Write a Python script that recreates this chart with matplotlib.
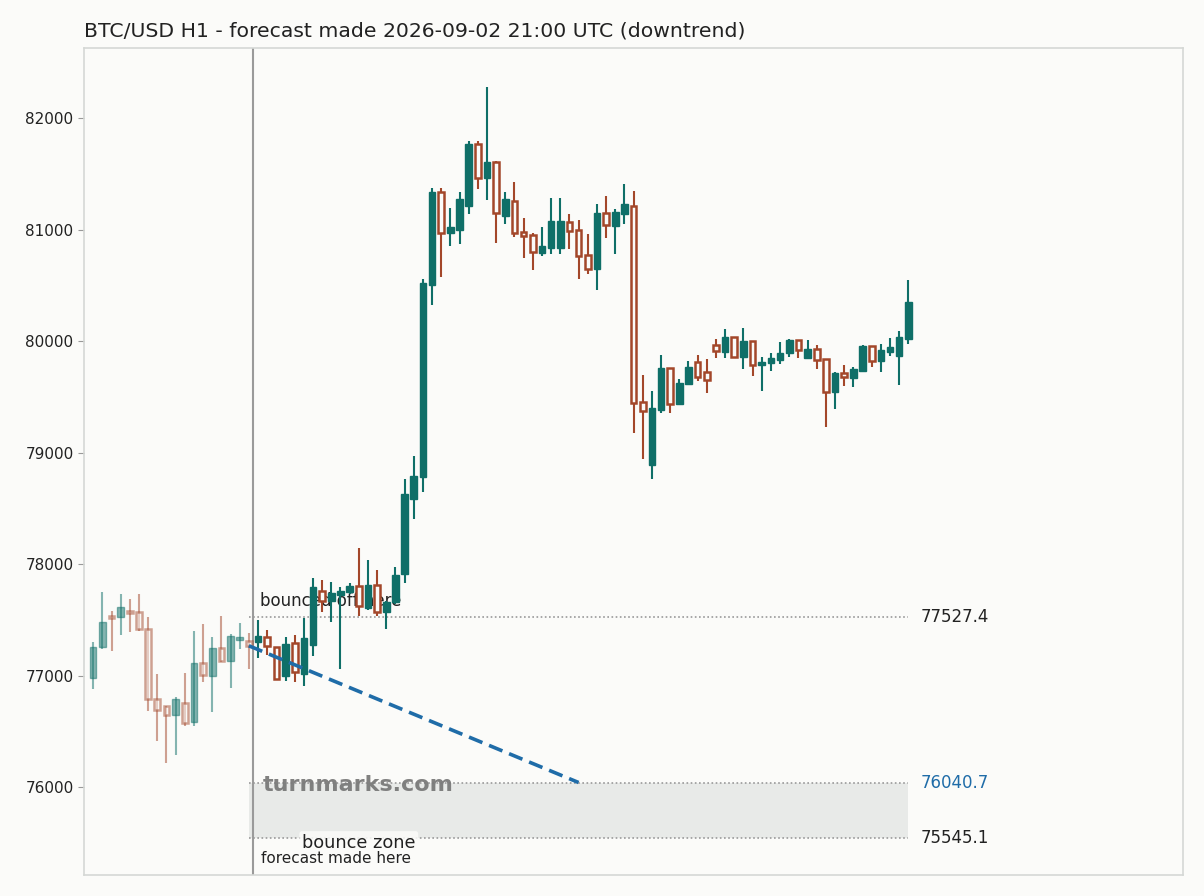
import numpy as np
import matplotlib.pyplot as plt
from matplotlib.patches import Rectangle

# hourly candles, first 18 are history before the forecast point
opens = [76975, 77253, 77530, 77522, 77580, 77572, 77414, 76786, 76726, 76643,
         76750, 76580, 77109, 77000, 77244, 77133, 77320, 77309,
         77303, 77348, 77253, 76998, 77289, 77011, 77273, 77760, 77671, 77722,
         77751, 77803, 77603, 77812, 77572, 77662, 77907, 78580, 78783, 80505,
         81334, 80971, 80995, 81213, 81764, 81465, 81603, 81124, 81253, 80975,
         80951, 80792, 80837, 80837, 81070, 80993, 80769, 80648, 81145, 81034,
         81142, 81211, 79450, 78891, 79378, 79755, 79432, 79612, 79809, 79725,
         79962, 79904, 80033, 79859, 79997, 79782, 79805, 79832, 79889, 80006,
         79847, 79926, 79836, 79540, 79710, 79671, 79734, 79952, 79824, 79904,
         79868, 80021]
closes = [77253, 77477, 77515, 77611, 77565, 77414, 76786, 76688, 76643, 76786,
          76571, 77109, 77004, 77244, 77133, 77354, 77345, 77267,
          77354, 77264, 76966, 77280, 77029, 77333, 77791, 77671, 77737, 77760,
          77805, 77626, 77812, 77572, 77662, 77901, 78628, 78789, 80523, 81336,
          80966, 81022, 81274, 81767, 81465, 81605, 81145, 81274, 80966, 80942,
          80795, 80852, 81076, 81076, 80984, 80760, 80643, 81148, 81038, 81157,
          81229, 79441, 79369, 79399, 79755, 79435, 79623, 79764, 79677, 79650,
          79910, 80036, 79859, 80000, 79782, 79812, 79845, 79892, 80009, 79917,
          79928, 79827, 79540, 79713, 79674, 79749, 79955, 79824, 79919, 79946,
          80036, 80350]
highs = [77303, 77751, 77575, 77728, 77683, 77728, 77522, 77011, 76730, 76804,
         77019, 77399, 77459, 77348, 77536, 77370, 77468, 77384,
         77498, 77408, 77260, 77342, 77363, 77513, 77871, 77856, 77841, 77796,
         77832, 78141, 78036, 77946, 77670, 77970, 78762, 78968, 80556, 81375,
         81375, 81196, 81339, 81794, 81794, 82281, 81614, 81336, 81426, 81103,
         80966, 81022, 81282, 81282, 81139, 81085, 80960, 81229, 81300, 81184,
         81408, 81345, 79695, 79552, 79874, 79760, 79656, 79821, 79874, 79838,
         80018, 80108, 80040, 80117, 80000, 79856, 79892, 79991, 80018, 80010,
         80009, 79964, 79840, 79722, 79785, 79764, 79964, 79955, 79973, 80024,
         80090, 80547]
lows = [76876, 77235, 77222, 77363, 77393, 77400, 76681, 76412, 76218, 76287,
        76547, 76550, 76939, 76670, 77120, 76885, 77235, 77055,
        77154, 77184, 76960, 76953, 76944, 76908, 77175, 77572, 77482, 77055,
        77728, 77533, 77590, 77533, 77414, 77640, 77832, 78401, 78648, 80323,
        80577, 80855, 80870, 81139, 81363, 81265, 80882, 81049, 80935, 80747,
        80637, 80765, 80783, 80783, 80828, 80560, 80604, 80460, 80927, 80783,
        81052, 79172, 78944, 78760, 79352, 79357, 79430, 79605, 79644, 79536,
        79850, 79850, 79850, 79749, 79689, 79554, 79734, 79796, 79859, 79850,
        79838, 79746, 79226, 79393, 79599, 79585, 79730, 79770, 79725, 79865,
        79605, 79976]

n_hist = 18
bounce_level = 77527.4
target_level = 76040.7
zone_low = 75545.1
target_idx = 53

up_col = "#0f6f68"
down_col = "#a3472a"
bg = "#fbfbf9"

fig = plt.figure(figsize=(12.04, 8.96), dpi=100, facecolor=bg)
ax = fig.add_axes([0.0698, 0.0234, 0.9128, 0.923])
ax.set_facecolor(bg)

x = np.arange(len(opens))
for i in x:
    o, c, h, l = opens[i], closes[i], highs[i], lows[i]
    col = up_col if c >= o else down_col
    a = 0.5 if i < n_hist else 1.0
    ax.vlines(i, l, h, color=col, lw=1.5, alpha=a, zorder=3)
    lo, hi = min(o, c), max(o, c)
    hgt = max(hi - lo, 12)
    if c >= o:
        ax.bar(i, hgt, bottom=lo, width=0.72, color=col, edgecolor=col,
               lw=1.0, alpha=a, zorder=4)
    else:
        ax.bar(i, hgt, bottom=lo, width=0.62, color=bg, edgecolor=col,
               lw=1.8, alpha=a, zorder=4)

last = len(opens) - 1
# forecast marker and levels
ax.axvline(n_hist - 0.5, color="#9a9a9a", lw=1.5, zorder=2)
ax.add_patch(Rectangle((n_hist - 1, zone_low), last - (n_hist - 1),
                       target_level - zone_low, facecolor="#e8eae8",
                       edgecolor="none", zorder=1))
for lvl in [bounce_level, target_level, zone_low]:
    ax.plot([n_hist - 1, last], [lvl, lvl], ls=(0, (1, 1.5)), color="#999999",
            lw=1.2, zorder=2)
ax.plot([n_hist - 1, target_idx], [closes[n_hist - 1], target_level],
        ls=(0, (4, 2)), color="#1f6ca8", lw=2.6, zorder=5)

ax.text(last + 1.3, bounce_level, "77527.4", fontsize=12, color="#222222",
        va="center", ha="left")
ax.text(last + 1.3, target_level, "76040.7", fontsize=12, color="#1f6ca8",
        va="center", ha="left")
ax.text(last + 1.3, zone_low, "75545.1", fontsize=12, color="#222222",
        va="center", ha="left")
ax.text(n_hist + 0.2, 77590, "bounced off here", fontsize=12, color="#222222",
        va="bottom", ha="left", zorder=2)
ax.text(29, 75500, "bounce zone", fontsize=12.8, color="#222222", va="center",
        ha="center", zorder=6,
        bbox=dict(boxstyle="round,pad=0.15", facecolor="#fbfbf9",
                  edgecolor="none", alpha=0.85))
ax.text(n_hist + 0.3, 75360, "forecast made here", fontsize=11,
        color="#222222", va="center", ha="left", zorder=6)
ax.text(n_hist + 0.5, 76015, "turnmarks.com", fontsize=16, fontweight="bold",
        color="#7a7a7a", alpha=0.95, va="center", ha="left", zorder=6)

ax.set_xlim(-1, 119)
ax.set_ylim(75211, 82628)
ax.set_xticks([])
ax.set_yticks([76000, 77000, 78000, 79000, 80000, 81000, 82000])
ax.tick_params(axis="y", labelsize=11, colors="#999999", labelcolor="#222222",
               length=4)
for s in ax.spines.values():
    s.set_color("#d5d8d5")
    s.set_linewidth(1.2)

fig.text(0.0698, 0.955, "BTC/USD H1 - forecast made 2026-09-02 21:00 UTC (downtrend)",
         fontsize=14.7, color="#222222", ha="left", va="bottom")

fig.savefig("out.png", dpi=100, facecolor=bg)
